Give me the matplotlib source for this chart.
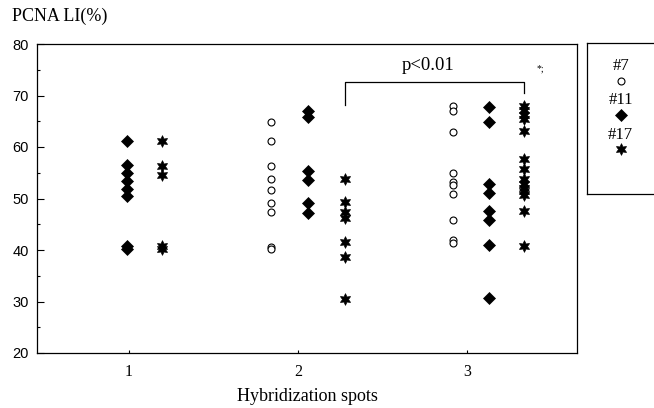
#!/usr/bin/env python3

import matplotlib
matplotlib.use('Agg')
import matplotlib.pyplot as plt
from matplotlib.ticker import MultipleLocator

# PCNA labelling index (%) per hybridization spot count, for each probe
spots = [1, 2, 3]
spot_labels = ['1', '2', '3']

n7_spot2 = [64.9, 61.2, 56.4, 53.7, 51.7, 49.1, 47.3, 40.6, 40.1]
n7_spot3 = [67.9, 66.9, 63.0, 54.9, 53.3, 52.7, 50.8, 45.9, 42.0, 41.3]

n11_spot1 = [61.2, 56.5, 55.0, 53.4, 51.8, 50.4, 40.8, 40.2]
n11_spot2 = [66.9, 65.9, 55.4, 53.5, 49.1, 47.1]
n11_spot3 = [67.8, 64.9, 52.8, 51.1, 47.5, 45.9, 40.9, 30.6]

n17_spot1 = [61.2, 56.3, 54.6, 40.8, 40.2]
n17_spot2 = [53.7, 49.4, 47.4, 46.2, 41.6, 38.7, 30.4]
n17_spot3 = [68.0, 67.2, 66.3, 65.4, 63.1, 57.7, 55.8, 53.7, 52.9,
             52.1, 51.4, 50.7, 47.6, 40.7]

series = {
    '#7': {2: n7_spot2, 3: n7_spot3},
    '#11': {1: n11_spot1, 2: n11_spot2, 3: n11_spot3},
    '#17': {1: n17_spot1, 2: n17_spot2, 3: n17_spot3},
}

# horizontal placement of each column beside its spot tick
shift = {
    ('#7', 2): -0.16, ('#7', 3): -0.08,
    ('#11', 1): -0.01, ('#11', 2): 0.06, ('#11', 3): 0.13,
    ('#17', 1): 0.195, ('#17', 2): 0.28, ('#17', 3): 0.34,
}

star6 = (6, 1, 0)
styles = {
    '#7': dict(marker='o', markersize=5, markerfacecolor='white',
               markeredgecolor='black', markeredgewidth=0.8),
    '#11': dict(marker='D', markersize=6, markerfacecolor='black',
                markeredgecolor='black', markeredgewidth=0.5),
    '#17': dict(marker=star6, markersize=8.5, markerfacecolor='black',
                markeredgecolor='black', markeredgewidth=0.5),
}

serif = ['Liberation Serif', 'DejaVu Serif']
sans = ['Liberation Sans', 'DejaVu Sans']

fig = plt.figure(figsize=(6.54, 4.08), dpi=100)
ax = fig.add_axes([37 / 654, 1 - 353 / 408, 540 / 654, 309 / 408])

for name, cols in series.items():
    for spot, vals in cols.items():
        x = [spot + shift[(name, spot)]] * len(vals)
        ax.plot(x, vals, linestyle='none', **styles[name])

ax.set_xlim(0.456, 3.651)
ax.set_ylim(20, 80)

ax.set_xticks(spots)
ax.set_xticklabels(spot_labels, family=serif, fontsize=11.5)
ax.yaxis.set_major_locator(MultipleLocator(10))
ax.yaxis.set_minor_locator(MultipleLocator(5))
for lab in ax.get_yticklabels():
    lab.set_family(sans)
    lab.set_fontsize(10.5)
ax.tick_params(axis='y', which='major', direction='in', length=5, width=0.8,
               pad=6)
ax.tick_params(axis='y', which='minor', direction='in', length=2.5, width=0.8)
ax.tick_params(axis='x', which='major', direction='in', length=2.5, width=0.8,
               pad=8)
for sp in ax.spines.values():
    sp.set_linewidth(0.9)

ax.set_xlabel('Hybridization spots', family=serif, fontsize=13, labelpad=6)
fig.text(12 / 654, 1 - 16 / 408, 'PCNA LI(%)', family=serif, fontsize=13,
         va='center', ha='left')

# significance bracket between the #17 columns at spots 2 and 3
xa = 2 + shift[('#17', 2)]
xb = 3 + shift[('#17', 3)]
ax.plot([xa, xa, xb, xb], [68.2, 72.7, 72.7, 70.4], color='black', lw=0.9)
ax.text(2.77, 75.9, 'p<0.01', family=serif, fontsize=13.5,
        ha='center', va='center')
ax.text(3.41, 75.2, '*;', family=serif, fontsize=7, ha='left', va='center')

# legend box at the right edge
lg = fig.add_axes([587 / 654, 1 - 194 / 408, 75 / 654, 151 / 408])
lg.set_xlim(0, 1)
lg.set_ylim(0, 1)
lg.set_xticks([])
lg.set_yticks([])
for sp in lg.spines.values():
    sp.set_linewidth(0.9)
ypos = {'#7': (0.85, 0.75), '#11': (0.62, 0.52), '#17': (0.39, 0.30)}
for name, (yt, ym) in ypos.items():
    lg.text(0.45, yt, name, family=serif, fontsize=12, ha='center',
            va='center')
    lg.plot([0.45], [ym], linestyle='none', **styles[name])

plt.savefig('out.png', dpi=100)
